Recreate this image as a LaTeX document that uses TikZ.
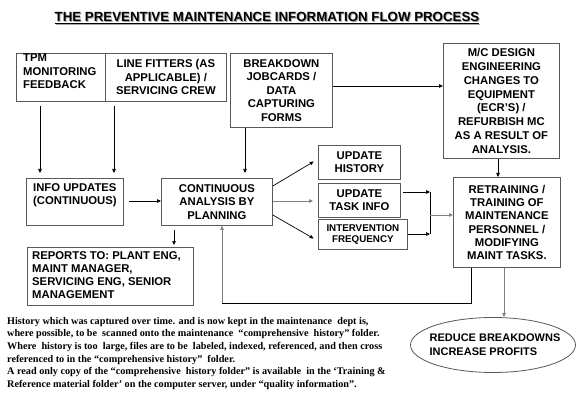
\documentclass[tikz,border=0pt]{standalone}
\usepackage{fontspec}
\setmainfont{Liberation Sans}
\newfontfamily\bodyserif{Liberation Serif}[Ligatures=TeX]
\usetikzlibrary{arrows.meta,shapes.geometric}
\begin{document}
\begin{tikzpicture}[x=1pt,y=-1pt,
  boxfont/.style={font=\fontsize{11.3}{13.5}\selectfont\bfseries},
  box/.style={draw=black!65, line width=0.8pt, inner sep=0pt, anchor=north west, boxfont, align=center},
  plain/.style={inner sep=0pt, boxfont, align=left, anchor=north west},
  arr/.style={-{Triangle[length=4pt,width=3.5pt]}, line width=0.7pt, draw=black},
  garr/.style={arr, draw=black!50},
]
\useasboundingbox[fill=white] (0,0) rectangle (576,409);

% title with shadow
\node[text=black!35, font=\fontsize{13.3}{16}\selectfont\bfseries, inner sep=0pt] (titles) at (268,19) {\underline{THE PREVENTIVE MAINTENANCE INFORMATION FLOW PROCESS}};
\node[font=\fontsize{13.3}{16}\selectfont\bfseries, inner sep=0pt] (title) at (267,18) {\underline{THE PREVENTIVE MAINTENANCE INFORMATION FLOW PROCESS}};

% top row
\node[box, minimum width=89pt, minimum height=48pt] (tpm) at (16,53) {};
\node[plain] (tpmt) at (23,54) {TPM\\MONITORING\\FEEDBACK};
\node[box, minimum width=121pt, minimum height=48pt] (fit) at (105,53) {LINE FITTERS (AS\\APPLICABLE) /\\SERVICING CREW};
\node[box, minimum width=102pt, minimum height=74pt] (brk) at (230,53) {BREAKDOWN\\JOBCARDS /\\DATA\\CAPTURING\\FORMS};
\node[box, minimum width=116pt, minimum height=115pt, font=\fontsize{11.3}{13.8}\selectfont\bfseries] (mc) at (443,43) {M/C DESIGN\\ENGINEERING\\CHANGES TO\\EQUIPMENT\\(ECR'S) /\\REFURBISH MC\\AS A RESULT OF\\ANALYSIS.};

% middle row
\node[box, minimum width=97pt, minimum height=47pt] (info) at (26,178) {};
\node[plain] (infot) at (33,183) {INFO UPDATES\\(CONTINUOUS)};
\node[box, minimum width=111pt, minimum height=47pt] (cont) at (161,178) {CONTINUOUS\\ANALYSIS BY\\PLANNING};
\node[box, minimum width=82pt, minimum height=34pt, font=\fontsize{11.3}{13.5}\selectfont\bfseries] (hist) at (318,145) {UPDATE\\HISTORY};
\node[box, minimum width=82pt, minimum height=34pt, font=\fontsize{11.3}{12.5}\selectfont\bfseries] (task) at (318,183) {UPDATE\\TASK INFO};
\node[box, minimum width=89pt, minimum height=30pt, font=\fontsize{9.8}{11.5}\selectfont\bfseries] (intv) at (318,219) {INTERVENTION\\FREQUENCY};
\node[box, minimum width=107pt, minimum height=90pt, font=\fontsize{11.3}{13.2}\selectfont\bfseries] (retr) at (453,177) {RETRAINING /\\TRAINING OF\\MAINTENANCE\\PERSONNEL /\\MODIFYING\\MAINT TASKS.};

% reports
\node[box, minimum width=166pt, minimum height=58pt] (rep) at (27,247) {};
\node[plain, font=\fontsize{11.3}{13.3}\selectfont\bfseries] (rept) at (32,251) {REPORTS TO: PLANT ENG,\\MAINT MANAGER,\\SERVICING ENG, SENIOR\\MANAGEMENT};

% ellipse
\node[draw=black!65, line width=0.8pt, ellipse, minimum width=165pt, minimum height=55pt, inner sep=0pt] (goal) at (493,345) {};
\node[inner sep=0pt, font=\fontsize{11}{14}\selectfont\bfseries, align=left] (goalt) at (495,345) {REDUCE BREAKDOWNS\\INCREASE PROFITS};

% bottom text
\node[inner sep=0pt, anchor=north west, align=left, font=\bodyserif\fontsize{10.2}{12.6}\selectfont\bfseries] (note) at (7,317)
{History which was captured over time. and is now kept in the maintenance\ \ dept is,\\
where possible, to be\ \ scanned onto the maintenance\ \ “comprehensive\ \ history” folder.\\
Where\ \ history is too\ \ large, files are to be\ \ labeled, indexed, referenced, and then cross\\
referenced to in the “comprehensive history”\ \ folder.\\
A read only copy of the “comprehensive\ \ history folder” is available\ \ in the ‘Training \&\\
Reference material folder’ on the computer server, under “quality information”.};

% connectors
\draw[arr, shorten <=4pt, shorten >=5pt] (tpm.south -| 40,0) -- (info.north -| 40,0);
\draw[arr, shorten <=4pt, shorten >=5pt] (fit.south -| 114,0) -- (info.north -| 114,0);
\draw[arr, shorten >=5pt] (brk.south -| 245,0) -- (cont.north -| 245,0);
\draw[arr] (brk.east |- 0,86) -- (mc.west |- 0,86);
\draw[arr, shorten <=5pt] (info.east |- 0,201) -- (cont.west |- 0,201);
\draw[arr, shorten <=4pt, shorten >=2pt] (cont.south -| 174,0) -- (rep.north -| 174,0);
\draw[arr, shorten >=5pt] (cont.east |- 0,186) -- (hist.west |- 0,159);
\draw[garr, shorten >=5pt] (cont.east |- 0,201) -- (task.west |- 0,201);
\draw[arr, shorten >=5pt] (cont.east |- 0,215) -- (intv.west |- 0,241);
\coordinate (jn) at (430,192);
\coordinate (jn2) at (430,234);
\draw[arr, shorten <=2pt] (task.east |- jn) -- (jn);
\draw[arr] (intv.east |- jn2) -- (jn2);
\draw[line width=0.7pt] (jn) -- (jn2);
\draw[garr] (jn |- 0,215) -- (retr.west |- 0,215);
\draw[arr] (mc.south -| 498,0) -- (retr.north -| 498,0);
\coordinate (c1) at (471,303);
\coordinate (c2) at (222,303);
\draw[line width=0.7pt] (retr.south -| c1) -- (c1) -- (c2);
\draw[garr] (c2) -- (cont.south -| c2);
\draw[garr] (retr.south -| 504,0) -- (goal.north -| 504,0);
\end{tikzpicture}
\end{document}
